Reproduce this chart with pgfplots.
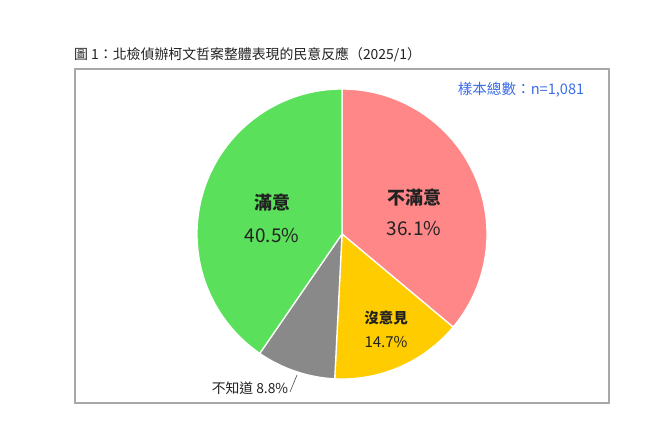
\documentclass[border=0pt]{standalone}
\usepackage{pgfplots}
\pgfplotsset{compat=1.18}
\usepackage{pgfplotstable}
\usepackage{fontspec}
\setmainfont{Noto Sans CJK TC}
\definecolor{cRed}{RGB}{255,135,135}
\definecolor{cYel}{RGB}{255,204,0}
\definecolor{cGry}{RGB}{137,137,137}
\definecolor{cGrn}{RGB}{90,224,90}
\definecolor{cBlue}{RGB}{60,110,230}
\definecolor{cTxt}{RGB}{34,34,34}
\definecolor{cBox}{RGB}{168,168,168}
% id: 1 不滿意, 2 沒意見, 3 不知道, 4 滿意
\pgfplotstableread{
id value
1 36.1
2 14.7
3 8.8
4 40.5
}\piedata
\pgfplotstablegetelem{0}{value}\of\piedata \let\vA\pgfplotsretval
\pgfplotstablegetelem{1}{value}\of\piedata \let\vB\pgfplotsretval
\pgfplotstablegetelem{2}{value}\of\piedata \let\vC\pgfplotsretval
\pgfplotstablegetelem{3}{value}\of\piedata \let\vD\pgfplotsretval
\pgfmathsetmacro\aA{90}
\pgfmathsetmacro\aB{\aA-3.6*\vA}
\pgfmathsetmacro\aC{\aB-3.6*\vB}
\pgfmathsetmacro\aD{\aC-3.6*\vC}
\pgfmathsetmacro\aE{-270}
\begin{document}
\begin{tikzpicture}
\path[use as bounding box] (0,0) rectangle (656bp,421bp);
\fill[white] (0,0) rectangle (656bp,421bp);
\draw[cBox, line width=1.8bp] (74.7bp,352bp) rectangle (609bp,18bp);
\node[anchor=west, inner sep=0, text=cTxt, font=\fontsize{13.9bp}{15bp}\selectfont] at (74bp,366bp) {圖 1：北檢偵辦柯文哲案整體表現的民意反應（2025/1）};
\node[inner sep=0, text=cBlue, font=\fontsize{14.6bp}{16bp}\selectfont] at (521bp,331bp) {樣本總數：n=1,081};
\begin{axis}[at={(342bp,187bp)}, anchor=center, width=290bp, height=290bp,
  scale only axis, xmin=-1, xmax=1, ymin=-1, ymax=1, hide axis, clip=false]
\addplot[fill=cRed, draw=white, line width=1.3bp, domain=\aA:\aB, samples=90, variable=\t] ({cos(t)},{sin(t)}) -- (axis cs:0,0) -- cycle;
\addplot[fill=cYel, draw=white, line width=1.3bp, domain=\aB:\aC, samples=50, variable=\t] ({cos(t)},{sin(t)}) -- (axis cs:0,0) -- cycle;
\addplot[fill=cGry, draw=white, line width=1.3bp, domain=\aC:\aD, samples=40, variable=\t] ({cos(t)},{sin(t)}) -- (axis cs:0,0) -- cycle;
\addplot[fill=cGrn, draw=white, line width=1.3bp, domain=\aD:\aE, samples=100, variable=\t] ({cos(t)},{sin(t)}) -- (axis cs:0,0) -- cycle;
\end{axis}
\node[inner sep=0, text=cTxt, font=\fontsize{18bp}{20bp}\selectfont\bfseries] at (414bp,223bp) {不滿意};
\node[inner sep=0, text=cTxt, font=\fontsize{19bp}{21bp}\selectfont] at (414bp,192bp) {36.1\%};
\node[inner sep=0, text=cTxt, font=\fontsize{18bp}{20bp}\selectfont\bfseries] at (272bp,218bp) {滿意};
\node[inner sep=0, text=cTxt, font=\fontsize{19bp}{21bp}\selectfont] at (272bp,185bp) {40.5\%};
\node[inner sep=0, text=cTxt, font=\fontsize{14.5bp}{16bp}\selectfont\bfseries] at (386bp,103bp) {沒意見};
\node[inner sep=0, text=cTxt, font=\fontsize{15bp}{17bp}\selectfont] at (386bp,79bp) {14.7\%};
\draw[cTxt!80, line width=0.6bp] (290bp,29bp) -- (297bp,46bp);
\node[inner sep=0, text=cTxt, font=\fontsize{13.8bp}{16bp}\selectfont] at (250bp,33bp) {不知道 8.8\%};
\end{tikzpicture}
\end{document}
